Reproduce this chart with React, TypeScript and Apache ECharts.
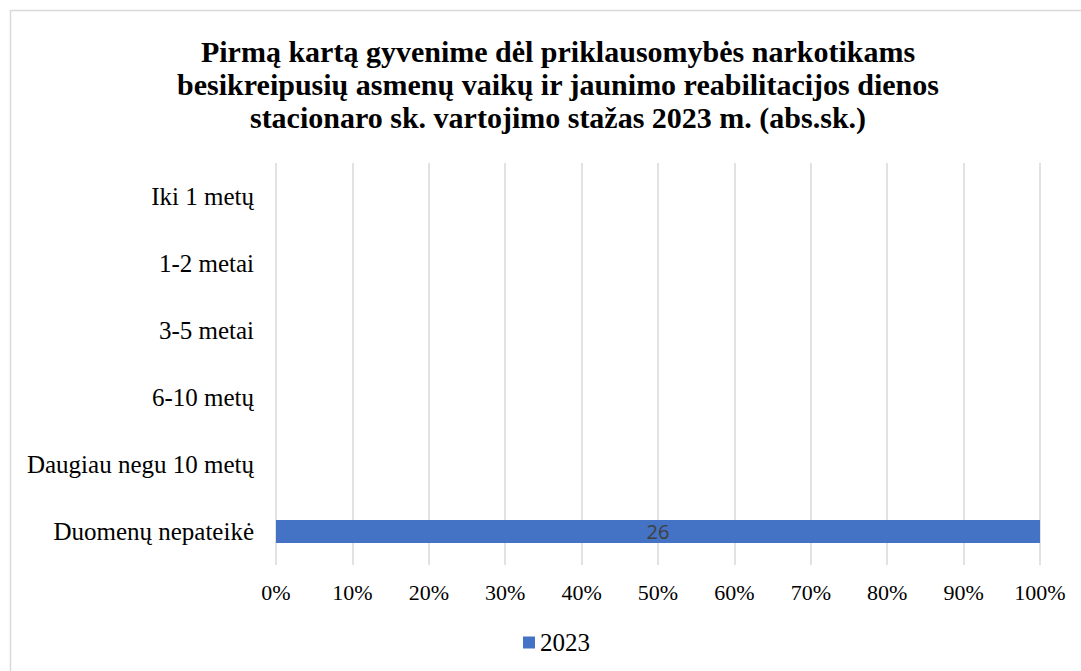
import React, { useEffect, useRef } from "react";
import * as echarts from "echarts";

const titleLines = [
  "Pirmą kartą gyvenime dėl priklausomybės narkotikams",
  "besikreipusių asmenų vaikų ir jaunimo reabilitacijos dienos",
  "stacionaro sk. vartojimo stažas 2023 m. (abs.sk.)",
];
const categories = [
  "Iki 1 metų",
  "1-2 metai",
  "3-5 metai",
  "6-10 metų",
  "Daugiau negu 10 metų",
  "Duomenų nepateikė",
];
const seriesName = "2023";
const counts = [0, 0, 0, 0, 0, 26];
const xTicks = [0, 10, 20, 30, 40, 50, 60, 70, 80, 90, 100];

export default function App() {
  const ref = useRef<HTMLDivElement>(null);
  useEffect(() => {
    if (!ref.current) return;
    const chart = echarts.init(ref.current, null, { renderer: "svg" });
    // 100% stacked: each category's share of its own total
    const pct = counts.map((v) => (v > 0 ? (v / v) * 100 : 0));
    const serif = "'Liberation Serif', 'Times New Roman', serif";
    chart.setOption({
      animation: false,
      backgroundColor: "#ffffff",
      title: {
        text: titleLines.join("\n"),
        left: 553,
        top: 30,
        textAlign: "center",
        textStyle: {
          fontFamily: serif,
          fontWeight: "bold",
          fontSize: 30,
          lineHeight: 33,
          color: "#000000",
        },
      },
      graphic: [
        {
          type: "rect",
          shape: { x: 10.5, y: 10.5, width: 1100, height: 700 },
          style: { fill: "none", stroke: "#d9d9d9", lineWidth: 1.5 },
          silent: true,
        },
      ],
      legend: {
        data: [seriesName],
        left: 518,
        top: 625,
        icon: "rect",
        itemWidth: 12,
        itemHeight: 12,
        itemGap: 6,
        textStyle: { fontFamily: serif, fontSize: 25, color: "#000000" },
      },
      grid: { left: 276, right: 41, top: 163, bottom: 106, containLabel: false },
      xAxis: {
        type: "value",
        min: xTicks[0],
        max: xTicks[xTicks.length - 1],
        interval: 10,
        axisLine: { show: false },
        axisTick: { show: false },
        splitLine: { show: true, lineStyle: { color: "#d9d9d9", width: 1.5 } },
        axisLabel: {
          formatter: "{value}%",
          fontFamily: serif,
          fontSize: 22,
          color: "#000000",
          margin: 16,
        },
      },
      yAxis: {
        type: "category",
        data: categories,
        inverse: true,
        axisLine: { show: false },
        axisTick: { show: false },
        axisLabel: {
          fontFamily: serif,
          fontSize: 25,
          color: "#000000",
          margin: 22,
        },
      },
      series: [
        {
          name: seriesName,
          type: "bar",
          stack: "total",
          data: pct,
          barCategoryGap: "66%",
          itemStyle: { color: "#4472c4" },
          label: {
            show: true,
            position: "inside",
            formatter: (p: any) => (counts[p.dataIndex] > 0 ? String(counts[p.dataIndex]) : ""),
            fontFamily: "'Open Sans', 'Noto Sans', sans-serif",
            fontSize: 20,
            color: "#404040",
          },
        },
      ],
    });
    return () => chart.dispose();
  }, []);
  return (
    <div
      ref={ref}
      style={{ position: "absolute", left: 0, top: 0, width: 1081, height: 671 }}
    />
  );
}
